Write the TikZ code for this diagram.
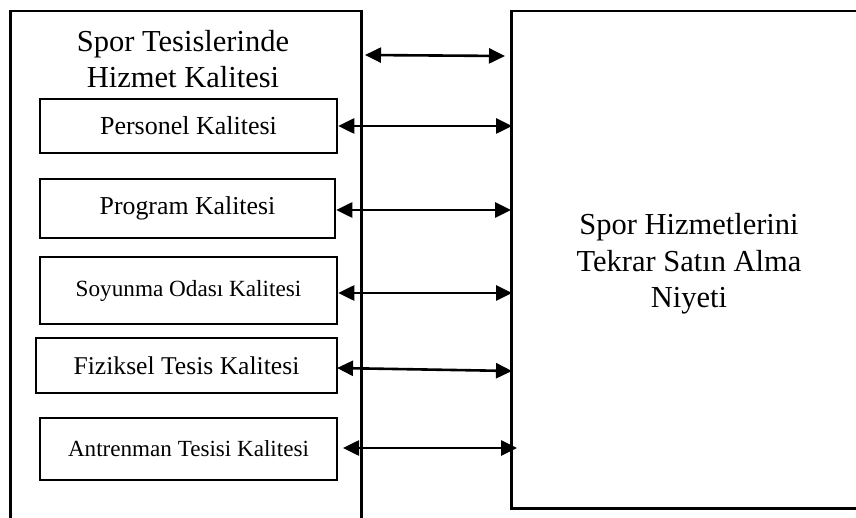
\documentclass[tikz,border=0pt]{standalone}
\usepackage{fontspec}
\setmainfont{Liberation Serif}
\usetikzlibrary{arrows.meta}
\begin{document}
\begin{tikzpicture}[x=1pt,y=-1pt,
  outer/.style={draw,line width=2.5pt},
  inner/.style={draw,line width=2.5pt,rectangle,inner sep=0pt},
  link/.style={line width=2.6pt,{Triangle[length=16pt,width=15pt]}-{Triangle[length=16pt,width=15pt]}},
  big/.style={font=\fontsize{30.5}{36.5}\selectfont,align=center,inner sep=0pt}]
\clip (0,0) rectangle (856,518);
% outer boxes
\node[outer,rectangle,minimum width=351pt,minimum height=540pt,anchor=north west] (lbox) at (9,10) {};
\node[outer,rectangle,minimum width=380pt,minimum height=497pt,anchor=north west] (rbox) at (510,10) {};
% titles
\node[big,anchor=base] (ltitle) at (183,88) {Spor Tesislerinde\\Hizmet Kalitesi};
\node[big,anchor=base] (rtitle) at (689,308) {Spor Hizmetlerini\\Tekrar Satın Alma\\Niyeti};
% inner boxes
\node[inner,minimum width=297pt,minimum height=54pt,font=\fontsize{26}{30}\selectfont] (b1) at (188.5,126) {Personel Kalitesi};
\node[inner,minimum width=295pt,minimum height=59pt,font=\fontsize{25.8}{30}\selectfont] (b2) at (187.5,208.5) {Program Kalitesi};
\node[inner,minimum width=297pt,minimum height=67pt,font=\fontsize{23.2}{28}\selectfont] (b3) at (188.5,290.5) {Soyunma Odası Kalitesi};
\node[inner,minimum width=301pt,minimum height=55pt,font=\fontsize{25.6}{30}\selectfont] (b4) at (186.5,365.5) {Fiziksel Tesis Kalitesi};
\node[inner,minimum width=297pt,minimum height=62pt,font=\fontsize{23.1}{28}\selectfont] (b5) at (188.5,449) {Antrenman Tesisi Kalitesi};
% arrow end points
\coordinate (t0) at (365,55);
\coordinate (t1) at (505,56);
\coordinate (a1) at (512,126);
\coordinate (a2) at (511,210);
\coordinate (a3) at (512,293);
\coordinate (a4a) at (337,368);
\coordinate (a4) at (512,371);
\coordinate (a5a) at (343,448);
\coordinate (a5) at (517,448);
\draw[link] (t0) -- (t1);
\draw[link] (b1.east) -- (a1);
\draw[link] (b2.east |- a2) -- (a2);
\draw[link] (b3.east |- a3) -- (a3);
\draw[link] (a4a) -- (a4);
\draw[link] (a5a) -- (a5);
\end{tikzpicture}
\end{document}
